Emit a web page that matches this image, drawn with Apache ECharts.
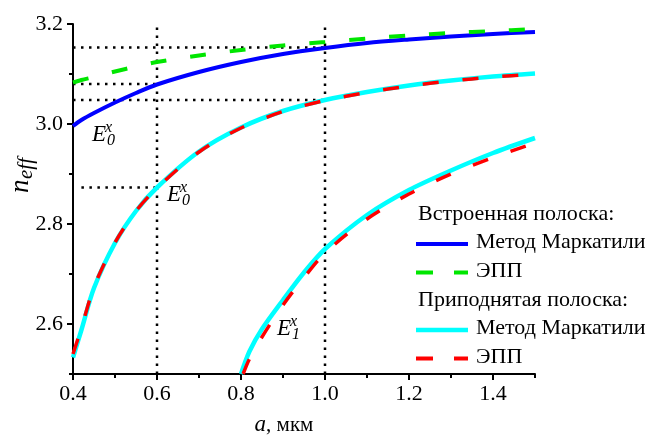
<!DOCTYPE html>
<html><head><meta charset="utf-8">
<script src="https://cdn.jsdelivr.net/npm/echarts@6/dist/echarts.min.js"></script>
<style>html,body{margin:0;padding:0;background:#fff}#c{width:656px;height:435px}
.pre{position:absolute;left:-9999px;top:0;font-family:'Liberation Serif'}</style>
</head><body><span class="pre">0.4 Метод <i>E n</i></span><div id="c"></div>
<script>
// ---- data ----
const xMain = [0.4,0.42,0.45,0.5,0.55,0.6,0.7,0.8,0.9,1.0,1.1,1.2,1.3,1.4,1.5];
const embMarcatili = [2.996,3.008,3.022,3.043,3.062,3.079,3.104,3.124,3.140,3.152,3.162,3.169,3.175,3.180,3.184];
const embEPP = [3.083,3.088,3.094,3.105,3.115,3.124,3.137,3.148,3.157,3.164,3.171,3.177,3.182,3.186,3.190];
const raisedMarcatili0 = [2.533,2.588,2.672,2.762,2.826,2.873,2.945,2.993,3.026,3.048,3.064,3.077,3.087,3.095,3.101];
const raisedEPP0 = [2.540,2.592,2.674,2.763,2.826,2.872,2.944,2.992,3.025,3.047,3.063,3.076,3.086,3.094,3.100];
const xMode1 = [0.8,0.82,0.85,0.9,0.95,1.0,1.1,1.2,1.3,1.4,1.5];
const raisedMarcatili1 = [2.500,2.545,2.590,2.648,2.703,2.750,2.818,2.868,2.907,2.942,2.972];
const xMode1EPP = [0.805,0.82,0.85,0.9,0.95,1.0,1.1,1.2,1.3,1.4,1.5];
const raisedEPP1 = [2.500,2.530,2.574,2.638,2.693,2.742,2.810,2.860,2.900,2.933,2.962];

const refVerticalX = [0.6, 1.0];
const refHorizY = [3.153, 3.080, 3.048, 2.873];
const refHorizFrom = [0.4, 0.4, 0.4, 0.42];
const refHorizTo = [1.0, 0.6, 1.0, 0.6];

const xTickLabels = [0.4, 0.6, 0.8, 1.0, 1.2, 1.4];
const xMinorTicks = [0.5, 0.7, 0.9, 1.1, 1.3, 1.5];
const yTickLabels = [2.6, 2.8, 3.0, 3.2];
const yMinorTicks = [2.5, 2.7, 2.9, 3.1];
const xRange = [0.4, 1.5];
const yRange = [2.5, 3.2];

const modeLabels = [
  {sub: '0', sup: 'x', at: [0.4452, 2.962]},
  {sub: '0', sup: 'x', at: [0.6238, 2.842]},
  {sub: '1', sup: 'x', at: [0.8857, 2.574]}
];
const legendHeaders = ['Встроенная полоска:', 'Приподнятая полоска:'];
const methodNames = ['Метод Маркатили', 'ЭПП'];
const xTitle = ['a', ', мкм'];
const yTitle = ['n', 'eff'];

// ---- styling ----
const FONT = 'Liberation Serif';
const zip = (xs, ys) => xs.map((x, i) => [x, ys[i]]);
const dotted = {color: '#000', width: 2.5, type: [2.5, 5.5], cap: 'butt'};
const C = {blue: '#0000ff', green: '#00e600', cyan: '#00ffff', red: '#ff0000'};
const DASH = [16, 24];

function curve(name, xs, ys, color, width, type, z) {
  return {type:'line', name, data: zip(xs, ys), symbol:'none', smooth:0.3,
    lineStyle:{color, width, type, cap:'butt'}, z};
}
const txt = (size, italic) => italic ? {fontFamily:FONT, fontSize:size, fontStyle:'italic', fill:'#000'} : {fontFamily:FONT, fontSize:size, fill:'#000'};
const axisBase = (min, max) => ({type:'value', min, max, splitLine:{show:false}});

let chart = null;
function render() {
  if (chart) chart.dispose();
  chart = echarts.init(document.getElementById('c'), null, {renderer:'canvas'});
  const refSeries = [];
  refVerticalX.forEach(x => refSeries.push({type:'line', silent:true, symbol:'none', z:1,
    data:[[x, yRange[0]],[x, yRange[1]]], lineStyle: dotted}));
  refHorizY.forEach((y, i) => refSeries.push({type:'line', silent:true, symbol:'none', z:1,
    data:[[refHorizFrom[i], y],[refHorizTo[i], y]], lineStyle: dotted}));
  chart.setOption({
    animation:false,
    backgroundColor:'#fff',
    textStyle:{fontFamily:FONT},
    grid:{left:73, top:24, right:121, bottom:61},
    xAxis:[
      Object.assign(axisBase(xRange[0], xRange[1]), {
        position:'bottom',
        axisLine:{onZero:false, lineStyle:{color:'#000', width:2}},
        axisTick:{show:true, customValues:xTickLabels, length:6, lineStyle:{color:'#000', width:2}},
        axisLabel:{customValues:xTickLabels, formatter:v => v.toFixed(1), color:'#000', fontFamily:FONT, fontSize:22, margin:9}
      }),
      Object.assign(axisBase(xRange[0], xRange[1]), {
        position:'bottom',
        axisLine:{show:false}, axisLabel:{show:false},
        axisTick:{show:true, customValues:xMinorTicks, length:4, lineStyle:{color:'#000', width:2}}
      })
    ],
    yAxis:[
      Object.assign(axisBase(yRange[0], yRange[1]), {
        position:'left',
        axisLine:{onZero:false, lineStyle:{color:'#000', width:2}},
        axisTick:{show:true, customValues:yTickLabels, length:6, lineStyle:{color:'#000', width:2}},
        axisLabel:{customValues:yTickLabels, formatter:v => v.toFixed(1), color:'#000', fontFamily:FONT, fontSize:22, margin:10}
      }),
      Object.assign(axisBase(yRange[0], yRange[1]), {
        position:'left', axisLine:{show:false}, axisLabel:{show:false},
        axisTick:{show:true, customValues:yMinorTicks, length:4, lineStyle:{color:'#000', width:2}}
      })
    ],
    series: refSeries.concat([
      curve(methodNames[0], xMain, embMarcatili, C.blue, 4, 'solid', 3),
      curve(methodNames[1], xMain, embEPP, C.green, 4, DASH, 4),
      curve(methodNames[0], xMain, raisedMarcatili0, C.cyan, 4.5, 'solid', 3),
      curve(methodNames[1], xMain, raisedEPP0, C.red, 3.5, DASH, 4),
      curve(methodNames[0], xMode1, raisedMarcatili1, C.cyan, 4.5, 'solid', 3),
      curve(methodNames[1], xMode1EPP, raisedEPP1, C.red, 3.5, DASH, 4)
    ])
  });

  const g = [];
  modeLabels.forEach(m => {
    const p = chart.convertToPixel({xAxisIndex:0, yAxisIndex:0}, m.at);
    g.push({type:'text', x:p[0], y:p[1]-7.6, style:Object.assign({text:'E', verticalAlign:'middle', align:'left'}, txt(23, true)), z:10});
    g.push({type:'text', x:p[0]+13, y:p[1]-15.5, style:Object.assign({text:m.sup, verticalAlign:'middle', align:'left'}, txt(16, true)), z:10});
    g.push({type:'text', x:p[0]+15, y:p[1]-2.5, style:Object.assign({text:m.sub, verticalAlign:'middle', align:'left'}, txt(16, true)), z:10});
  });
  // y-axis title (rotated)
  g.push({type:'group', x:21, y:193, rotation:Math.PI/2, children:[
    {type:'text', x:0, y:0, style:Object.assign({text:yTitle[0], verticalAlign:'middle', align:'left'}, txt(27, true))},
    {type:'text', x:14, y:5, style:Object.assign({text:yTitle[1], verticalAlign:'middle', align:'left'}, txt(21, true))}
  ]});
  // x-axis title
  g.push({type:'text', x:284, y:425, style:{text:'{i|' + xTitle[0] + '}{n|' + xTitle[1] + '}', align:'center', verticalAlign:'middle',
    rich:{i:{fontFamily:FONT, fontStyle:'italic', fontSize:23, fill:'#000'}, n:{fontFamily:FONT, fontSize:21, fill:'#000'}}}});
  // legend
  const LX = 418, lineX0 = 416, lineX1 = 468, textX = 476;
  const rows = [214.5, 242.5, 271, 300, 328.5, 357];
  const items = [
    {kind:'h', text:legendHeaders[0]},
    {kind:'i', text:methodNames[0], color:C.blue, dashed:false, w:4},
    {kind:'i', text:methodNames[1], color:C.green, dashed:true, w:4},
    {kind:'h', text:legendHeaders[1]},
    {kind:'i', text:methodNames[0], color:C.cyan, dashed:false, w:4.5},
    {kind:'i', text:methodNames[1], color:C.red, dashed:true, w:4}
  ];
  items.forEach((it, i) => {
    const y = rows[i];
    if (it.kind === 'h') {
      g.push({type:'text', x:LX, y, style:Object.assign({text:it.text, verticalAlign:'middle'}, txt(22, false))});
    } else {
      g.push({type:'line', shape:{x1:lineX0, y1:y+1.5, x2:lineX1, y2:y+1.5}, style:{stroke:it.color, lineWidth:it.w, lineDash: it.dashed ? [17, 21] : null}});
      g.push({type:'text', x:textX, y, style:Object.assign({text:it.text, verticalAlign:'middle'}, txt(22, false))});
    }
  });
  chart.setOption({graphic:g});
}
render();
if (document.fonts && document.fonts.load) {
  Promise.all([document.fonts.load('22px "Liberation Serif"'), document.fonts.load('italic 22px "Liberation Serif"')])
    .then(() => render()).catch(() => {});
}
</script></body></html>
